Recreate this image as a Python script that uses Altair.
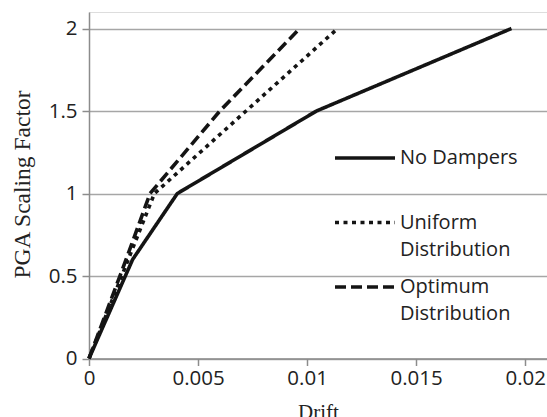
import altair as alt
import pandas as pd

series_names = ["No Dampers", "Uniform Distribution", "Optimum Distribution"]
no_dampers_x = [0.0, 0.002, 0.00405, 0.01043, 0.01937]
no_dampers_y = [0.0, 0.6, 1.0, 1.5, 2.0]
uniform_x = [0.0, 0.0018, 0.0030, 0.0072, 0.0114]
uniform_y = [0.0, 0.6, 1.0, 1.5, 2.0]
optimum_x = [0.0, 0.0017, 0.0028, 0.0060, 0.00966]
optimum_y = [0.0, 0.6, 1.0, 1.5, 2.0]
x_ticks = [0, 0.005, 0.01, 0.015, 0.02]
y_ticks = [0, 0.5, 1, 1.5, 2]

rows = []
for name, xs, ys in [
    (series_names[0], no_dampers_x, no_dampers_y),
    (series_names[1], uniform_x, uniform_y),
    (series_names[2], optimum_x, optimum_y),
]:
    for i, (x, y) in enumerate(zip(xs, ys)):
        rows.append({"series": name, "drift": x, "pga": y, "order": i})
df = pd.DataFrame(rows)

label_font = "Open Sans"
title_font = "Liberation Serif"
fs = 20.5

chart = (
    alt.Chart(df)
    .mark_line(strokeWidth=3.6, strokeCap="butt", strokeJoin="miter", color="#141414")
    .encode(
        x=alt.X(
            "drift:Q",
            scale=alt.Scale(domain=[0, 0.021], nice=False, zero=True),
            axis=alt.Axis(
                title="Drift",
                values=x_ticks,
                format="~g",
                grid=False,
                domainColor="#8c8c8c",
                domainWidth=1.5,
                tickColor="#8c8c8c",
                tickWidth=1.5,
                tickSize=7,
                labelFont=label_font,
                labelFontSize=fs,
                labelColor="#222222",
                labelPadding=3,
                labelFlush=False,
                titleFont=title_font,
                titleFontSize=21,
                titleFontWeight="normal",
                titleColor="#222222",
                titleY=60,
                titleBaseline="alphabetic",
            ),
        ),
        y=alt.Y(
            "pga:Q",
            scale=alt.Scale(domain=[0, 2.1], nice=False),
            axis=alt.Axis(
                title="PGA Scaling Factor",
                values=y_ticks,
                format="~g",
                grid=True,
                gridColor="#a6a6a6",
                gridWidth=1.5,
                domainColor="#8c8c8c",
                domainWidth=1.5,
                tickColor="#8c8c8c",
                tickWidth=1.5,
                tickSize=7,
                labelFont=label_font,
                labelFontSize=fs,
                labelColor="#222222",
                labelPadding=5,
                titleFont=title_font,
                titleFontSize=23.5,
                titleFontWeight="normal",
                titleColor="#222222",
                titleAngle=270,
                titleX=-67,
                titleY=172,
                titleAlign="center",
                titleBaseline="middle",
            ),
        ),
        strokeDash=alt.StrokeDash(
            "series:N",
            scale=alt.Scale(domain=series_names, range=[[1, 0], [4, 4.5], [11, 5]]),
            legend=alt.Legend(
                title=None,
                orient="none",
                legendX=274,
                legendY=129,
                symbolType="M-3,0H1",
                symbolSize=900,
                symbolStrokeWidth=3.6,
                symbolStrokeColor="#141414",
                labelFont=label_font,
                labelFontSize=20,
                labelColor="#222222",
                labelLimit=300,
                labelOffset=3,
                labelExpr="datum.label == 'No Dampers' ? [datum.label, ' '] : split(datum.label, ' ')",
                rowPadding=10.5,
                padding=0,
            ),
        ),
        detail="series:N",
        order="order:O",
    )
    .properties(
        width=458,
        height=346.5,
        autosize=alt.AutoSizeParams(type="none"),
        padding={"left": 89, "top": 12, "right": 0, "bottom": 59},
    )
    .configure_view(stroke=None)
    .configure(background="white", style={"guide-label": {"lineHeight": 27}})
)

chart.save("out.html", embed_options={"renderer": "svg", "actions": False})
